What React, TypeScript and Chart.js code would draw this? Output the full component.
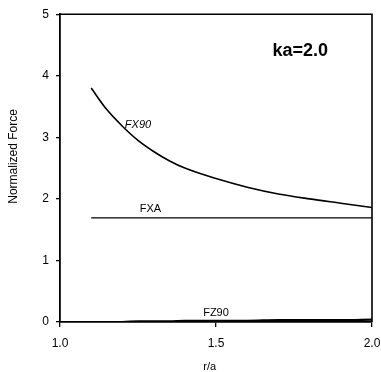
import React, { useEffect, useRef } from "react";
import { Chart, registerables } from "chart.js";

Chart.register(...registerables);

const rA = [1.1, 1.15, 1.2, 1.25, 1.3, 1.35, 1.4, 1.5, 1.6, 1.7, 1.8, 1.9, 2.0];
const fx90 = [3.8, 3.45, 3.18, 2.95, 2.77, 2.62, 2.5, 2.33, 2.19, 2.08, 2.0, 1.93, 1.86];
const fxa = [1.69, 1.69, 1.69, 1.69, 1.69, 1.69, 1.69, 1.69, 1.69, 1.69, 1.69, 1.69, 1.69];
const fz90 = [0.0, 0.0, 0.0, 0.01, 0.01, 0.01, 0.02, 0.02, 0.02, 0.03, 0.03, 0.03, 0.04];
const xTicks = [1.0, 1.5, 2.0];
const yTicks = [0, 1, 2, 3, 4, 5];
const yTitle = "Normalized Force";
const xTitle = "r/a";
const labels = [
  { text: "FX90", x: 1.25, y: 3.2, font: "italic 11px 'Liberation Sans', Arial" },
  { text: "FXA", x: 1.29, y: 1.84, font: "11px 'Liberation Sans', Arial" },
  { text: "FZ90", x: 1.5, y: 0.15, font: "11px 'Liberation Sans', Arial" },
];
const heading = { text: "ka=2.0", x: 1.77, y: 4.4 };

const FONT = "'Liberation Sans', Arial, sans-serif";

export default function App() {
  const ref = useRef<HTMLCanvasElement>(null);
  useEffect(() => {
    if (!ref.current) return;
    const pts = (ys: number[]) => rA.map((x, i) => ({ x, y: ys[i] }));
    const textPlugin = {
      id: "texts",
      afterDraw(chart: any) {
        const { ctx, chartArea, scales } = chart;
        ctx.save();
        ctx.strokeStyle = "#000";
        ctx.lineWidth = 1.6;
        ctx.beginPath();
        ctx.moveTo(chartArea.left, chartArea.top);
        ctx.lineTo(chartArea.right, chartArea.top);
        ctx.lineTo(chartArea.right, chartArea.bottom);
        ctx.stroke();
        ctx.fillStyle = "#000";
        ctx.textAlign = "center";
        ctx.textBaseline = "middle";
        for (const l of labels) {
          ctx.font = l.font;
          ctx.fillText(l.text, scales.x.getPixelForValue(l.x), scales.y.getPixelForValue(l.y));
        }
        ctx.font = "bold 18px " + FONT;
        ctx.fillText(heading.text, scales.x.getPixelForValue(heading.x), scales.y.getPixelForValue(heading.y));
        ctx.font = "12px " + FONT;
        ctx.save();
        ctx.translate(14, scales.y.getPixelForValue(2.69));
        ctx.rotate(-Math.PI / 2);
        ctx.fillText(yTitle, 0, 0);
        ctx.restore();
        ctx.font = "11px " + FONT;
        ctx.fillText(xTitle, scales.x.getPixelForValue(1.48), 367);
        ctx.restore();
      },
    };
    const ds = (data: number[], w: number) => ({
      data: pts(data),
      showLine: true,
      borderColor: "#000",
      borderWidth: w,
      pointRadius: 0,
      cubicInterpolationMode: "monotone",
      fill: false,
    });
    const chart = new Chart(ref.current, {
      type: "scatter",
      data: { datasets: [ds(fx90, 1.6), ds(fxa, 1.3), ds(fz90, 2.2)] },
      options: {
        animation: false,
        responsive: false,
        layout: { padding: { left: 0, top: 14, right: 0, bottom: 0 } },
        plugins: { legend: { display: false }, tooltip: { enabled: false } },
        scales: {
          x: {
            type: "linear",
            min: 1,
            max: 2,
            afterFit: (s: any) => { s.height = 50; s.paddingRight = 9; },
            afterBuildTicks: (s: any) => { s.ticks = xTicks.map((v) => ({ value: v })); },
            ticks: {
              color: "#000",
              font: { family: FONT, size: 12 },
              padding: 9,
              callback: (v: any) => Number(v).toFixed(1),
              maxRotation: 0,
            },
            grid: { drawOnChartArea: false, tickLength: 5, color: "#000", lineWidth: 1.3 },
            border: { color: "#000", width: 1.8 },
          },
          y: {
            type: "linear",
            min: 0,
            max: 5,
            afterFit: (s: any) => { s.width = 60; },
            afterBuildTicks: (s: any) => { s.ticks = yTicks.map((v) => ({ value: v })); },
            ticks: { color: "#000", font: { family: FONT, size: 12 }, padding: 7 },
            grid: { drawOnChartArea: false, tickLength: 4, color: "#000", lineWidth: 1.3 },
            border: { color: "#000", width: 1.8 },
          },
        },
      },
      plugins: [textPlugin],
    } as any);
    return () => chart.destroy();
  }, []);
  return (
    <div style={{ position: "fixed", left: 0, top: 0, width: 381, height: 372, background: "#fff" }}>
      <canvas ref={ref} width={381} height={372} style={{ width: 381, height: 372 }} />
    </div>
  );
}
